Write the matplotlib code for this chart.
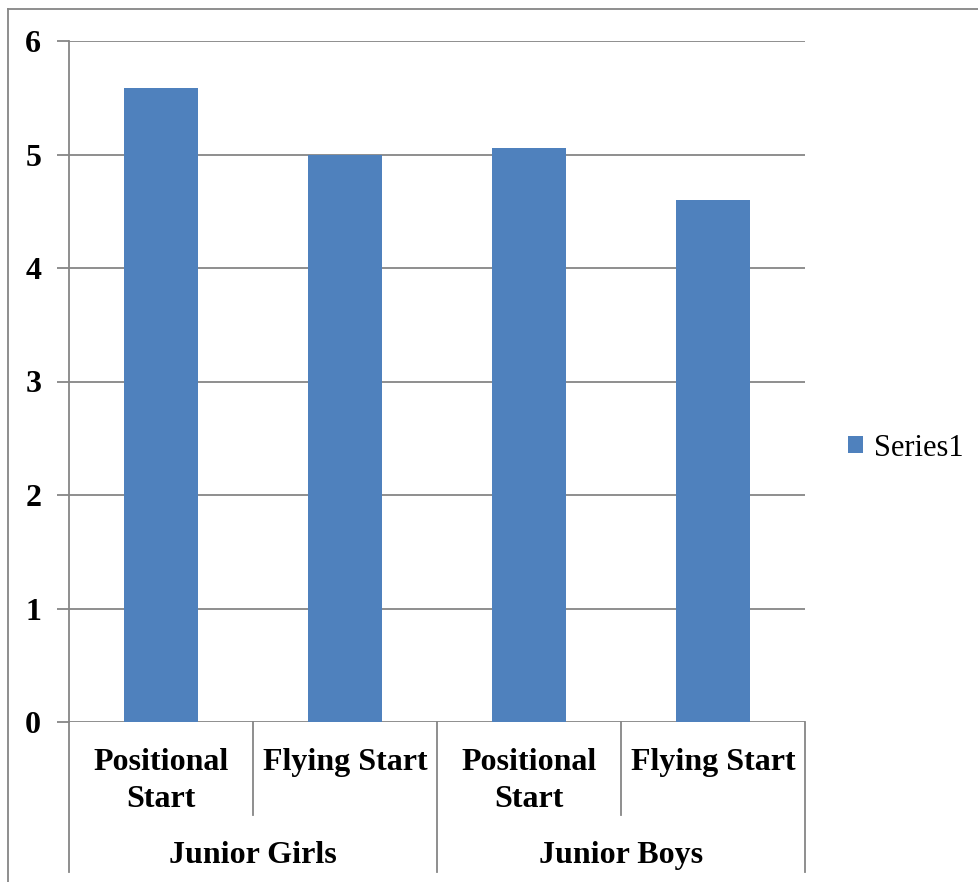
import matplotlib.pyplot as plt
from matplotlib.lines import Line2D
from matplotlib.patches import Patch

# data
groups = ['Junior Girls', 'Junior Boys']
starts = ['Positional\nStart', 'Flying Start', 'Positional\nStart', 'Flying Start']
values = [5.59, 5.0, 5.06, 4.6]
yticks = [0, 1, 2, 3, 4, 5, 6]

W, H = 979, 882
grey = '#868686'
blue = '#4F81BD'
serif = 'Liberation Serif'

fig = plt.figure(figsize=(W / 100, H / 100), dpi=100)
ax = fig.add_axes([69 / W, 1 - 722 / H, (805 - 69) / W, (722 - 41) / H])

x = list(range(len(values)))
ax.bar(x, values, width=0.4, color=blue, label='Series1', zorder=3)
ax.set_xlim(-0.5, len(values) - 0.5)
ax.set_ylim(0, 6)
ax.set_yticks(yticks)
ax.set_yticklabels([str(v) for v in yticks], fontfamily=serif,
                   fontweight='bold', fontsize=23)
ax.yaxis.grid(True, color=grey, lw=1.3)
ax.set_axisbelow(True)
for s in ['top', 'right', 'bottom']:
    ax.spines[s].set_visible(False)
ax.spines['left'].set_color(grey)
ax.spines['left'].set_linewidth(1.3)
ax.tick_params(axis='y', length=9, color=grey, width=1.3, pad=11)
ax.set_xticks([])

# two-level category axis
axh = 722 - 41
tr = ax.get_xaxis_transform()
for i, lab in enumerate(starts):
    ax.text(i, -26 / axh, lab, transform=tr, ha='center', va='top',
            fontfamily=serif, fontweight='bold', fontsize=23,
            linespacing=1.35)
for k, g in enumerate(groups):
    ax.text(2 * k + 0.5, -(863 - 722) / axh, g, transform=tr, ha='center',
            va='baseline', fontfamily=serif, fontweight='bold', fontsize=23)

for b in [-0.5, 0.5, 1.5, 2.5, 3.5]:
    bottom = (872 - 722) / axh if b in (-0.5, 1.5, 3.5) else (815 - 722) / axh
    ax.plot([b, b], [0, -bottom], transform=tr, color=grey, lw=1.3,
            clip_on=False)

# legend
handle = Patch(facecolor=blue, edgecolor='none', label='Series1')
fig.legend(handles=[handle], loc='center left',
           bbox_to_anchor=(848 / W, 1 - 448 / H), frameon=False,
           prop={'family': serif, 'size': 22},
           handlelength=0.5, handleheight=0.5, handletextpad=0.35,
           borderpad=0, borderaxespad=0)

# outer chart frame
fig.add_artist(Line2D([8 / W, 8 / W], [0, 1 - 9 / H], transform=fig.transFigure,
                      color=grey, lw=1.3))
fig.add_artist(Line2D([8 / W, 1], [1 - 9 / H, 1 - 9 / H],
                      transform=fig.transFigure, color=grey, lw=1.3))

fig.savefig('out.png', dpi=100)
